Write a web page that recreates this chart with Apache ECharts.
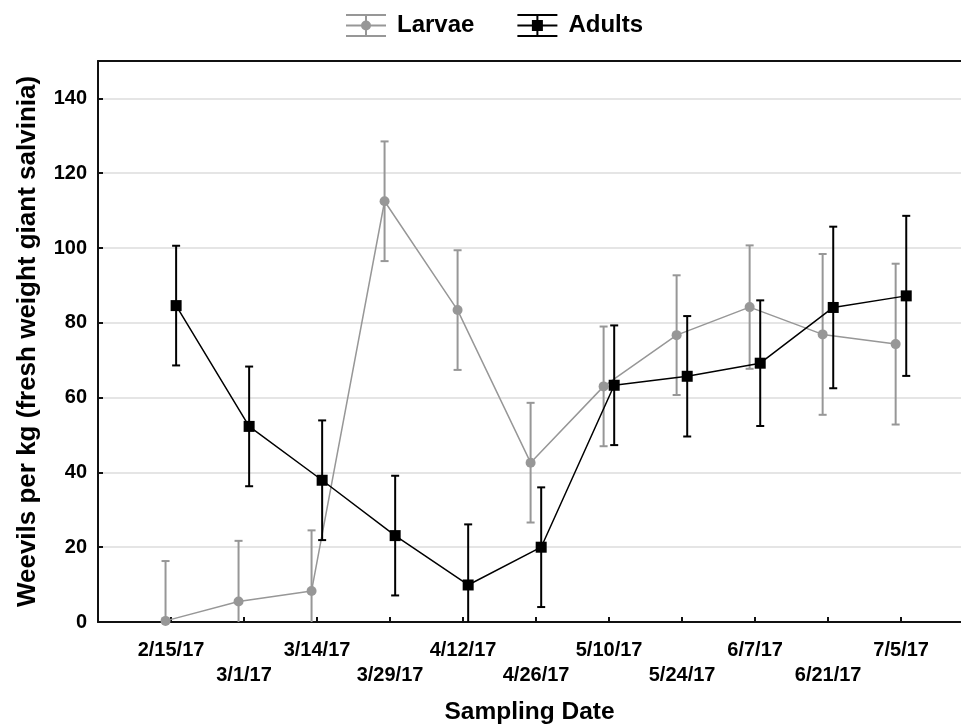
<!DOCTYPE html>
<html>
<head>
<meta charset="utf-8">
<script src="https://cdn.jsdelivr.net/npm/echarts@6/dist/echarts.min.js"></script>
<style>
html,body{margin:0;padding:0;background:#fff;}
#chart{width:961px;height:724px;}
</style>
</head>
<body>
<div id="chart"></div>
<script>
var categories = ['2/15/17','3/1/17','3/14/17','3/29/17','4/12/17','4/26/17','5/10/17','5/24/17','6/7/17','6/21/17','7/5/17'];
var larvaeMean = [0.3, 5.5, 8.3, 112.5, 83.4, 42.6, 63.0, 76.7, 84.2, 76.9, 74.3];
var larvaeErr  = [16.0, 16.2, 16.2, 16.0, 16.0, 16.0, 16.0, 16.0, 16.5, 21.5, 21.5];
var adultMean  = [84.6, 52.3, 37.9, 23.1, 9.9, 20.0, 63.3, 65.7, 69.2, 84.1, 87.2];
var adultErr   = [16.0, 16.0, 16.0, 16.0, 16.2, 16.0, 16.0, 16.1, 16.8, 21.6, 21.4];
var yTickValues = [0, 20, 40, 60, 80, 100, 120, 140];

var FONT = 'Liberation Sans, Arial, sans-serif';
var GRAY = '#979797';
var BLACK = '#000000';
var LARVAE_SHIFT = -0.075, ADULT_SHIFT = 0.07;

function pts(mean, shift){ return mean.map(function(v,i){ return [i + shift, v]; }); }
function errPts(mean, err, shift){ return mean.map(function(v,i){ return [i + shift, v, err[i]]; }); }

function errRender(color){
  return function(params, api){
    var x = api.value(0), m = api.value(1), e = api.value(2);
    var top = api.coord([x, m + e]);
    var bot = api.coord([x, m - e]);
    var cs = params.coordSys;
    var bottomEdge = cs.y + cs.height;
    var by = Math.min(bot[1], bottomEdge);
    var hw = 4;
    var st = {stroke: color, lineWidth: 2};
    var ch = [
      {type:'line', shape:{x1:top[0], y1:top[1], x2:top[0], y2:by}, style:st},
      {type:'line', shape:{x1:top[0]-hw, y1:top[1], x2:top[0]+hw, y2:top[1]}, style:st}
    ];
    if (bot[1] <= bottomEdge) {
      ch.push({type:'line', shape:{x1:bot[0]-hw, y1:bot[1], x2:bot[0]+hw, y2:bot[1]}, style:st});
    }
    return {type:'group', children: ch};
  };
}

var iconBase = 'M0,0H40V2H0Z M0,21H40V23H0Z M19,0H21V23H19Z M0,10.5H40V12.5H0Z ';
var larvaeIcon = 'path://' + iconBase + 'M25,11.5A5,5,0,1,1,15,11.5A5,5,0,1,1,25,11.5Z';
var adultIcon = 'path://' + iconBase + 'M14.5,6H25.5V17H14.5Z';

var chart = echarts.init(document.getElementById('chart'), null, {renderer:'canvas'});
var option = {
  animation: false,
  backgroundColor: '#fff',
  textStyle: {fontFamily: FONT},
  legend: {
    top: 8.5, left: 341,
    itemWidth: 40, itemHeight: 23, itemGap: 43,
    textStyle: {fontFamily: FONT, fontSize: 24, fontWeight: 'bold', color: '#000', padding: [0,0,0,6]},
    data: [
      {name: 'Larvae', icon: larvaeIcon, itemStyle:{color: GRAY}},
      {name: 'Adults', icon: adultIcon, itemStyle:{color: BLACK}}
    ]
  },
  grid: {left: 98, right: 0, top: 61, bottom: 102, containLabel: false, outerBoundsMode: 'none'},
  xAxis: [{
    type: 'value', min: -1, max: 10.82,
    name: 'Sampling Date', nameLocation: 'middle', nameGap: 78,
    nameTextStyle: {fontFamily: FONT, fontSize: 24.5, fontWeight: 'bold', color: '#000'},
    axisLine: {show: true, onZero: false, lineStyle: {color: '#111', width: 2}},
    axisTick: {show: true, inside: true, length: 5, customValues: categories.map(function(c,i){return i;}), lineStyle: {color: '#111', width: 2}},
    axisLabel: {
      show: true, margin: 16, fontFamily: FONT, fontSize: 20, fontWeight: 'bold', color: '#000', lineHeight: 25,
      customValues: categories.map(function(c,i){return i;}),
      formatter: function(v){ var i = Math.round(v); return (i % 2 === 1 ? '\n' : '') + categories[i]; }
    },
    splitLine: {show: false}
  }, {
    type: 'value', min: -1, max: 10.82, position: 'top',
    axisLine: {show: true, onZero: false, lineStyle: {color: '#111', width: 2}},
    axisTick: {show: false}, axisLabel: {show: false}, splitLine: {show: false}
  }],
  yAxis: {
    type: 'value', min: 0, max: 150, interval: 20,
    name: 'Weevils per kg (fresh weight giant salvinia)', nameLocation: 'middle', nameGap: 57,
    nameTextStyle: {fontFamily: FONT, fontSize: 26, fontWeight: 'bold', color: '#000'},
    axisLine: {show: true, onZero: false, lineStyle: {color: '#111', width: 2}},
    axisTick: {show: true, inside: true, length: 5, customValues: yTickValues, lineStyle: {color: '#111', width: 2}},
    axisLabel: {margin: 11, fontFamily: FONT, fontSize: 20, fontWeight: 'bold', color: '#000', customValues: yTickValues},
    splitLine: {show: true, lineStyle: {color: '#dcdcdc', width: 1.5}}
  },
  series: [
    {name: 'LarvaeErr', type: 'custom', renderItem: errRender(GRAY), data: errPts(larvaeMean, larvaeErr, LARVAE_SHIFT), encode: {x:0, y:1}, z: 2, silent: true},
    {name: 'Larvae', type: 'line', data: pts(larvaeMean, LARVAE_SHIFT), symbol: 'circle', symbolSize: 10,
     itemStyle: {color: GRAY}, lineStyle: {color: GRAY, width: 1.5}, z: 3},
    {name: 'AdultsErr', type: 'custom', renderItem: errRender(BLACK), data: errPts(adultMean, adultErr, ADULT_SHIFT), encode: {x:0, y:1}, z: 4, silent: true},
    {name: 'Adults', type: 'line', data: pts(adultMean, ADULT_SHIFT), symbol: 'rect', symbolSize: 11,
     itemStyle: {color: BLACK}, lineStyle: {color: BLACK, width: 1.5}, z: 5}
  ]
};
chart.setOption(option);
</script>
</body>
</html>
